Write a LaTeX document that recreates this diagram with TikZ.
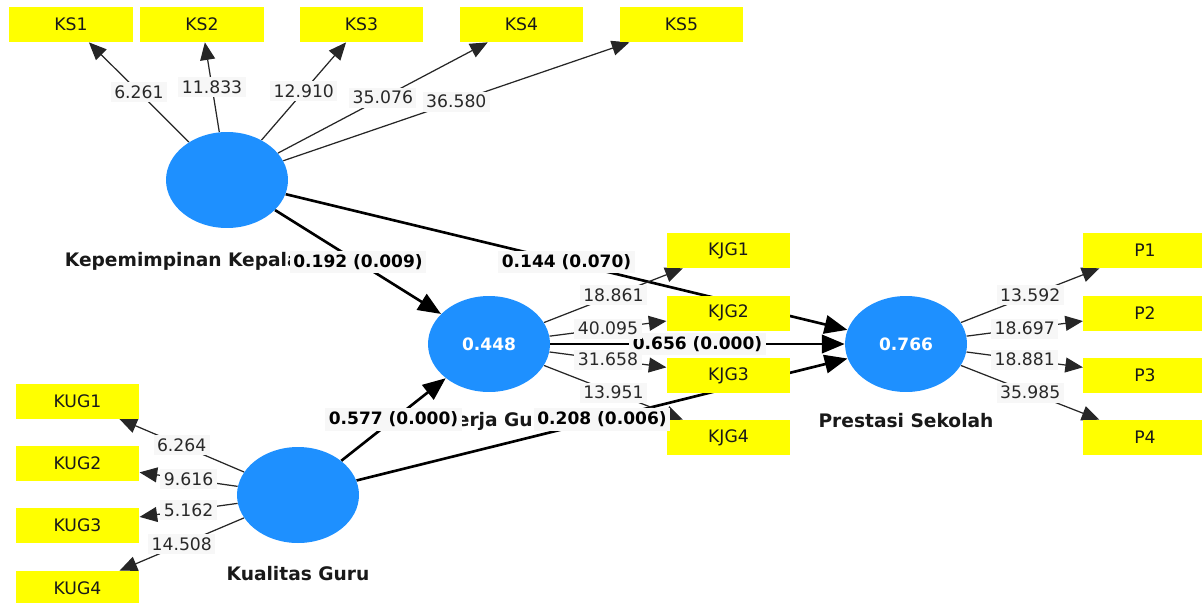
\documentclass[tikz,border=0pt]{standalone}
\usepackage{fontspec}
\setmainfont{DejaVu Sans}
\usetikzlibrary{arrows.meta,shapes.geometric}
\pgfdeclarelayer{bg}
\pgfsetlayers{bg,main}
\definecolor{plsblue}{RGB}{30,144,255}
\definecolor{labbg}{RGB}{247,247,247}
\definecolor{labtxt}{RGB}{40,40,40}
\definecolor{indyellow}{RGB}{255,255,0}
\tikzset{
  lv/.style={ellipse, fill=plsblue, draw=none, minimum width=2.44cm, minimum height=1.92cm, inner sep=0pt, text=white, font=\bfseries\fontsize{9.7}{11}\selectfont},
  ind/.style={rectangle, fill=indyellow, minimum width=2.47cm, minimum height=0.7cm, inner sep=0pt, text=black!90, font=\fontsize{9.8}{11}\selectfont},
  lvname/.style={font=\bfseries\fontsize{10.6}{12}\selectfont, text=black!90, inner sep=0pt},
  outarr/.style={line width=0.7pt, draw=black!85, -{Triangle[length=10pt,width=8.5pt]}},
  inarr/.style={line width=1.5pt, draw=black, -{Triangle[length=13pt,width=10.5pt]}},
  lab/.style={fill=labbg, text=labtxt, inner xsep=2pt, inner ysep=2pt, font=\fontsize{9.8}{11}\selectfont},
  plab/.style={fill=labbg, text=black, inner xsep=2pt, inner ysep=2pt, font=\bfseries\fontsize{9.7}{11}\selectfont}
}
\begin{document}
\begin{tikzpicture}[x=0.02cm,y=-0.02cm]
\useasboundingbox (0,0) rectangle (1202,602);
\begin{pgfonlayer}{bg}
\fill[white] (0,0) rectangle (1202,602);
\end{pgfonlayer}

% latent variables
\node[lv] (ks) at (227,180) {};
\node[lv] (kjg) at (489,344) {0.448};
\node[lv] (ps) at (906,344) {0.766};
\node[lv] (kug) at (298,495) {};

% indicators
\node[ind] (ks1) at (71,24.5) {KS1};
\node[ind] (ks2) at (202,24.5) {KS2};
\node[ind] (ks3) at (361.5,24.5) {KS3};
\node[ind] (ks4) at (521.5,24.5) {KS4};
\node[ind] (ks5) at (681.5,24.5) {KS5};
\node[ind] (kjg1) at (728.5,250.5) {KJG1};
\node[ind] (kjg2) at (728.5,313) {KJG2};
\node[ind] (kjg3) at (728.5,375.5) {KJG3};
\node[ind] (kjg4) at (728.5,437.5) {KJG4};
\node[ind] (p1) at (1145,250.5) {P1};
\node[ind] (p2) at (1145,313) {P2};
\node[ind] (p3) at (1145,375.5) {P3};
\node[ind] (p4) at (1145,437.5) {P4};
\node[ind] (kug1) at (77.5,401) {KUG1};
\node[ind] (kug2) at (77.5,463.5) {KUG2};
\node[ind] (kug3) at (77.5,525.5) {KUG3};
\node[ind] (kug4) at (77.5,588.5) {KUG4};

\begin{pgfonlayer}{bg}
% construct names
\node[lvname] (nks) at (227,261) {Kepemimpinan Kepala Sekolah};
\node[lvname] (nkjg) at (489,421) {Kinerja Guru};
\node[lvname] (nps) at (906,421) {Prestasi Sekolah};
\node[lvname] (nkug) at (298,574) {Kualitas Guru};
% structural paths
\draw[inarr] (ks) -- (kjg);
\draw[inarr] (ks) -- (ps);
\draw[inarr] (kjg) -- (ps);
\draw[inarr] (kug) -- (kjg);
\draw[inarr] (kug) -- (ps);
% outer loadings
\foreach \i in {1,...,5} {\draw[outarr] (ks) -- (ks\i);}
\foreach \i in {1,...,4} {\draw[outarr] (kjg) -- (kjg\i);}
\foreach \i in {1,...,4} {\draw[outarr] (ps) -- (p\i);}
\foreach \i in {1,...,4} {\draw[outarr] (kug) -- (kug\i);}
\end{pgfonlayer}

% path coefficient labels
\path (ks) -- (kjg) node[plab, midway] {0.192 (0.009)};
\path (ks) -- (ps) node[plab, midway] {0.144 (0.070)};
\path (kjg) -- (ps) node[plab, midway] {0.656 (0.000)};
\path (kug) -- (kjg) node[plab, midway] {0.577 (0.000)};
\path (kug) -- (ps) node[plab, midway] {0.208 (0.006)};

% loading labels
\path (ks) -- (ks1) node[lab, midway] {6.261};
\path (ks) -- (ks2) node[lab, midway] {11.833};
\path (ks) -- (ks3) node[lab, midway] {12.910};
\path (ks) -- (ks4) node[lab, midway] {35.076};
\path (ks) -- (ks5) node[lab, midway] {36.580};
\path (kjg) -- (kjg1) node[lab, midway] {18.861};
\path (kjg) -- (kjg2) node[lab, midway] {40.095};
\path (kjg) -- (kjg3) node[lab, midway] {31.658};
\path (kjg) -- (kjg4) node[lab, midway] {13.951};
\path (ps) -- (p1) node[lab, midway] {13.592};
\path (ps) -- (p2) node[lab, midway] {18.697};
\path (ps) -- (p3) node[lab, midway] {18.881};
\path (ps) -- (p4) node[lab, midway] {35.985};
\path (kug) -- (kug1) node[lab, midway] {6.264};
\path (kug) -- (kug2) node[lab, midway] {9.616};
\path (kug) -- (kug3) node[lab, midway] {5.162};
\path (kug) -- (kug4) node[lab, midway] {14.508};
\end{tikzpicture}
\end{document}
